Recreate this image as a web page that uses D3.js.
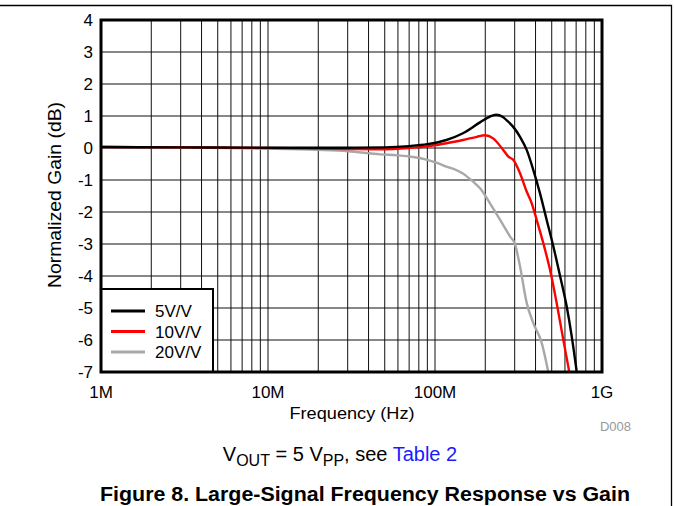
<!DOCTYPE html>
<html>
<head>
<meta charset="utf-8">
<script src="https://cdn.jsdelivr.net/npm/d3@7"></script>
<style>
  html, body { margin: 0; padding: 0; background: #fff; }
  svg { display: block; }
  text { font-family: "Liberation Sans", Arial, sans-serif; }
</style>
</head>
<body>
<svg id="chart" width="674" height="506"></svg>
<script>
// ---- data ----
const seriesNames = ["5V/V", "10V/V", "20V/V"];
const seriesColors = ["#000000", "#ff0000", "#a8a8a8"];

const freq5 = [1e6, 3e6, 10e6, 30e6, 50e6, 70e6, 90e6, 117e6, 147e6, 186e6, 213e6, 232e6, 255e6, 268e6, 294e6, 323e6, 354e6, 388e6, 425e6, 466e6, 511e6, 561e6, 614e6, 658e6, 706e6];
const gain5 = [0.03, 0.02, 0.01, 0.01, 0.02, 0.06, 0.12, 0.25, 0.46, 0.8, 0.98, 1.04, 0.97, 0.87, 0.66, 0.35, -0.06, -0.69, -1.41, -2.24, -3.07, -4.0, -4.94, -5.87, -7.0];

const freq10 = [1e6, 3e6, 10e6, 30e6, 47e6, 70e6, 90e6, 117e6, 147e6, 178e6, 199e6, 223e6, 256e6, 275e6, 294e6, 323e6, 354e6, 379e6, 406e6, 445e6, 488e6, 535e6, 586e6, 637e6];
const gain10 = [0.03, 0.02, 0.0, -0.03, -0.04, 0.0, 0.05, 0.15, 0.25, 0.35, 0.4, 0.3, -0.06, -0.27, -0.37, -0.79, -1.36, -1.72, -2.24, -2.97, -3.8, -4.84, -5.98, -7.0];

const freq20 = [1e6, 3e6, 10e6, 20e6, 30e6, 47e6, 60e6, 74e6, 90e6, 105e6, 117e6, 133e6, 147e6, 162e6, 175e6, 186e6, 213e6, 245e6, 281e6, 301e6, 323e6, 354e6, 387e6, 435e6, 477e6];
const gain20 = [0.03, 0.02, -0.02, -0.06, -0.1, -0.2, -0.23, -0.28, -0.37, -0.48, -0.58, -0.68, -0.8, -0.97, -1.12, -1.26, -1.72, -2.24, -2.76, -3.0, -3.7, -4.84, -5.46, -6.08, -7.0];

const xTickValues = [1e6, 1e7, 1e8, 1e9];
const xTickLabels = ["1M", "10M", "100M", "1G"];
const yTickValues = [4, 3, 2, 1, 0, -1, -2, -3, -4, -5, -6, -7];

// ---- layout ----
const svg = d3.select("#chart");
const L = 101, R = 602, T = 20, B = 372;

const x = d3.scaleLog().domain([1e6, 1e9]).range([L, R]);
const y = d3.scaleLinear().domain([-7, 4]).range([B, T]);

// page frame (top and right)
svg.append("path")
  .attr("d", `M0,5.5 H671.5 V506`)
  .attr("fill", "none").attr("stroke", "#000").attr("stroke-width", 1.3);

// grid
const minor = [];
for (let d = 6; d < 9; d++) for (let k = 1; k <= 9; k++) minor.push(k * Math.pow(10, d));
minor.push(1e9);
const grid = svg.append("g");
grid.selectAll("line.v").data(minor).join("line")
  .attr("x1", d => x(d)).attr("x2", d => x(d))
  .attr("y1", T).attr("y2", B)
  .attr("stroke", "#111").attr("stroke-width", 1);
grid.selectAll("line.h").data(yTickValues).join("line")
  .attr("x1", L).attr("x2", R)
  .attr("y1", d => y(d)).attr("y2", d => y(d))
  .attr("stroke", "#111").attr("stroke-width", 1);

// curves
svg.append("defs").append("clipPath").attr("id", "clip")
  .append("rect").attr("x", L).attr("y", T).attr("width", R - L).attr("height", B - T);

const series = [
  { f: freq5, g: gain5 },
  { f: freq10, g: gain10 },
  { f: freq20, g: gain20 }
];
const line = d3.line()
  .x(d => x(d[0])).y(d => y(d[1]))
  .curve(d3.curveMonotoneX);

const curves = svg.append("g").attr("clip-path", "url(#clip)");
[2, 1, 0].forEach(i => {
  const pts = series[i].f.map((f, j) => [f, series[i].g[j]]);
  curves.append("path")
    .attr("d", line(pts))
    .attr("fill", "none")
    .attr("stroke", seriesColors[i])
    .attr("stroke-width", 2.4)
    .attr("stroke-linejoin", "round");
});

// legend
const lg = svg.append("g");
lg.append("rect")
  .attr("x", L).attr("y", 289).attr("width", 112).attr("height", B - 289)
  .attr("fill", "#fff").attr("stroke", "#000").attr("stroke-width", 2);
seriesNames.forEach((n, i) => {
  const yy = 311 + i * 20.5;
  lg.append("line").attr("x1", 111).attr("x2", 145).attr("y1", yy).attr("y2", yy)
    .attr("stroke", seriesColors[i]).attr("stroke-width", 3);
  lg.append("text").attr("x", 155).attr("y", yy + 6)
    .attr("font-size", 17).attr("fill", "#000").text(n);
});

// plot frame
svg.append("rect")
  .attr("x", L).attr("y", T).attr("width", R - L).attr("height", B - T)
  .attr("fill", "none").attr("stroke", "#000").attr("stroke-width", 3);

// y tick labels
svg.append("g").selectAll("text").data(yTickValues).join("text")
  .attr("x", 93).attr("y", d => y(d) + 6)
  .attr("text-anchor", "end").attr("font-size", 17).text(d => d);

// x tick labels
svg.append("g").selectAll("text").data(xTickValues).join("text")
  .attr("x", d => x(d)).attr("y", 398)
  .attr("text-anchor", "middle").attr("font-size", 17)
  .text((d, i) => xTickLabels[i]);

// axis titles
svg.append("text")
  .attr("transform", "translate(61,195) rotate(-90)")
  .attr("text-anchor", "middle").attr("font-size", 18)
  .attr("textLength", 186).attr("lengthAdjust", "spacingAndGlyphs")
  .text("Normalized Gain (dB)");
svg.append("text")
  .attr("x", 352).attr("y", 419)
  .attr("text-anchor", "middle").attr("font-size", 17)
  .attr("textLength", 125).attr("lengthAdjust", "spacingAndGlyphs")
  .text("Frequency (Hz)");

svg.append("text")
  .attr("x", 631).attr("y", 431)
  .attr("text-anchor", "end").attr("font-size", 13).attr("fill", "#999")
  .text("D008");

// caption
const cap = svg.append("text")
  .attr("x", 340).attr("y", 461)
  .attr("text-anchor", "middle").attr("font-size", 20);
cap.append("tspan").text("V");
cap.append("tspan").attr("font-size", 16).attr("dy", 5).text("OUT");
cap.append("tspan").attr("dy", -5).text(" = 5 V");
cap.append("tspan").attr("font-size", 16).attr("dy", 5).text("PP");
cap.append("tspan").attr("dy", -5).text(", see ");
cap.append("tspan").attr("fill", "#1a1aff").text("Table 2");

// figure title
svg.append("text")
  .attr("x", 365).attr("y", 501)
  .attr("text-anchor", "middle").attr("font-size", 20).attr("font-weight", "bold")
  .attr("textLength", 530).attr("lengthAdjust", "spacingAndGlyphs")
  .text("Figure 8. Large-Signal Frequency Response vs Gain");
</script>
</body>
</html>
